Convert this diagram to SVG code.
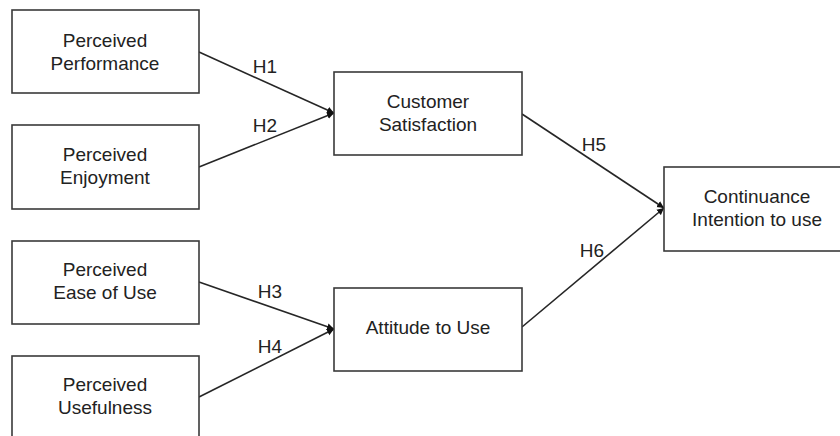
<svg xmlns="http://www.w3.org/2000/svg" width="840" height="436" viewBox="0 0 840 436">
<defs>
<style>
.box{fill:#fff;stroke:#3a3a3a;stroke-width:1.6}
.t{font-family:"Liberation Sans",Arial,sans-serif;font-size:19px;fill:#222;text-anchor:middle}
.c{stroke:#262626;stroke-width:1.6;fill:none;marker-end:url(#ah)}
</style>
<marker id="ah" markerWidth="8" markerHeight="8" refX="7" refY="4" orient="auto" markerUnits="userSpaceOnUse">
<path d="M0,0.5 L7,4 L0,7.5 Z" fill="#111"/>
</marker>
</defs>
<rect width="840" height="436" fill="#fff"/>
<g id="connectors">
<line class="c" x1="199" y1="52" x2="334" y2="113"/>
<line class="c" x1="199" y1="167" x2="334" y2="113"/>
<line class="c" x1="199" y1="282" x2="334" y2="329"/>
<line class="c" x1="199" y1="397" x2="334" y2="329"/>
<line class="c" x1="522" y1="114" x2="664" y2="208"/>
<line class="c" x1="522" y1="327" x2="664" y2="208"/>
<text class="t" x="265" y="73">H1</text>
<text class="t" x="265" y="132">H2</text>
<text class="t" x="270" y="298">H3</text>
<text class="t" x="270" y="353">H4</text>
<text class="t" x="594" y="151">H5</text>
<text class="t" x="592" y="257">H6</text>
</g>
<g id="perceived-performance">
<rect class="box" x="12" y="10" width="187" height="83"/>
<text class="t" x="105" y="47">Perceived</text>
<text class="t" x="105" y="70">Performance</text>
</g>
<g id="perceived-enjoyment">
<rect class="box" x="12" y="125" width="187" height="84"/>
<text class="t" x="105" y="161">Perceived</text>
<text class="t" x="105" y="184">Enjoyment</text>
</g>
<g id="perceived-ease">
<rect class="box" x="12" y="241" width="187" height="83"/>
<text class="t" x="105" y="276">Perceived</text>
<text class="t" x="105" y="299">Ease of Use</text>
</g>
<g id="perceived-usefulness">
<rect class="box" x="12" y="356" width="187" height="90"/>
<text class="t" x="105" y="391">Perceived</text>
<text class="t" x="105" y="414">Usefulness</text>
</g>
<g id="customer-satisfaction">
<rect class="box" x="334" y="72" width="188" height="83"/>
<text class="t" x="428" y="108">Customer</text>
<text class="t" x="428" y="131">Satisfaction</text>
</g>
<g id="attitude">
<rect class="box" x="334" y="288" width="188" height="83"/>
<text class="t" x="428" y="334">Attitude to Use</text>
</g>
<g id="continuance">
<rect class="box" x="664" y="167" width="185" height="84"/>
<text class="t" x="757" y="203">Continuance</text>
<text class="t" x="757" y="226">Intention to use</text>
</g>
</svg>
